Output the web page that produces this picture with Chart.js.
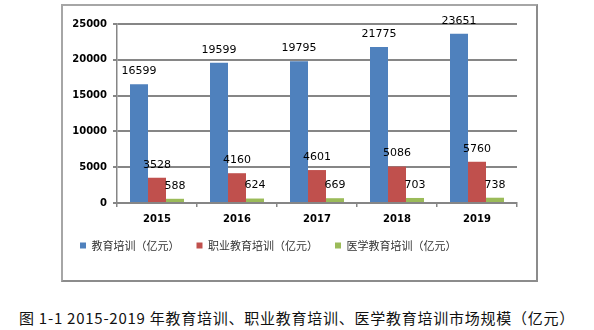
<!DOCTYPE html>
<html>
<head>
<meta charset="utf-8">
<script src="https://cdn.jsdelivr.net/npm/chart.js@4"></script>
<style>
  body { margin: 0; background: #fff; width: 594px; height: 330px; position: relative; overflow: hidden; }
  #box { position: absolute; left: 61px; top: 4px; width: 477px; height: 278px; box-sizing: border-box;
         border: 2px solid #a6a6a6; border-right-color: #8c8c8c; border-bottom-color: #8c8c8c; }
  #box canvas { display: block; }
  #caption { position: absolute; left: 0; width: 594px; top: 307px; text-align: center; letter-spacing: 0.75px;
             font-family: "Noto Sans CJK SC", sans-serif; font-size: 15px; color: #111; white-space: nowrap; }
</style>
</head>
<body>
<div id="box"><canvas id="chart" width="473" height="274"></canvas></div>
<div id="caption">图 1-1 2015-2019 年教育培训、职业教育培训、医学教育培训市场规模（亿元）</div>
<script>
const years = ['2015', '2016', '2017', '2018', '2019'];
const education = [16599, 19599, 19795, 21775, 23651];
const vocational = [3528, 4160, 4601, 5086, 5760];
const medical = [588, 624, 669, 703, 738];
const yTicks = [0, 5000, 10000, 15000, 20000, 25000];

// draw values above each bar
const valueLabels = {
    id: 'valueLabels',
    afterDatasetsDraw(chart) {
        const c = chart.ctx;
        c.save();
        c.font = '11px "DejaVu Sans"';
        c.fillStyle = '#000';
        c.textAlign = 'center';
        c.textBaseline = 'middle';
        chart.data.datasets.forEach((ds, i) => {
            chart.getDatasetMeta(i).data.forEach((bar, j) => {
                c.fillText(ds.data[j], bar.x, bar.y - 13);
            });
        });
        c.restore();
    }
};

new Chart(document.getElementById('chart'), {
    type: 'bar',
    data: {
        labels: years,
        datasets: [
            { label: '教育培训（亿元）', data: education, backgroundColor: '#4f81bd' },
            { label: '职业教育培训（亿元）', data: vocational, backgroundColor: '#c0504d' },
            { label: '医学教育培训（亿元）', data: medical, backgroundColor: '#9bbb59' }
        ]
    },
    options: {
        responsive: false,
        animation: false,
        layout: { padding: { top: 18, right: 19, bottom: 19, left: 0 } },
        datasets: { bar: { categoryPercentage: 0.675, barPercentage: 1 } },
        plugins: {
            tooltip: { enabled: false },
            legend: {
                position: 'bottom',
                align: 'start',
                labels: {
                    boxWidth: 6, boxHeight: 6, padding: 17,
                    color: '#333',
                    font: { family: '"Noto Sans CJK SC"', size: 11 }
                }
            }
        },
        scales: {
            x: {
                grid: { display: true, drawOnChartArea: false, tickLength: 4, color: '#868686', lineWidth: 1.5, offset: true },
                border: { color: '#868686', width: 2 },
                ticks: { color: '#000', padding: 6, font: { family: '"DejaVu Sans"', size: 10, weight: 'bold' } },
                afterFit(scale) { scale.height = 20; }
            },
            y: {
                min: 0, max: 25000,
                afterBuildTicks(scale) { scale.ticks = yTicks.map(v => ({ value: v })); },
                grid: { color: '#868686', lineWidth: 2, tickLength: 4 },
                border: { color: '#868686', width: 1.5 },
                ticks: {
                    color: '#000', padding: 6,
                    font: { family: '"DejaVu Sans"', size: 10, weight: 'bold' },
                    callback: v => String(v)
                },
                afterFit(scale) { scale.width = 54; }
            }
        }
    },
    plugins: [valueLabels]
});
</script>
</body>
</html>
